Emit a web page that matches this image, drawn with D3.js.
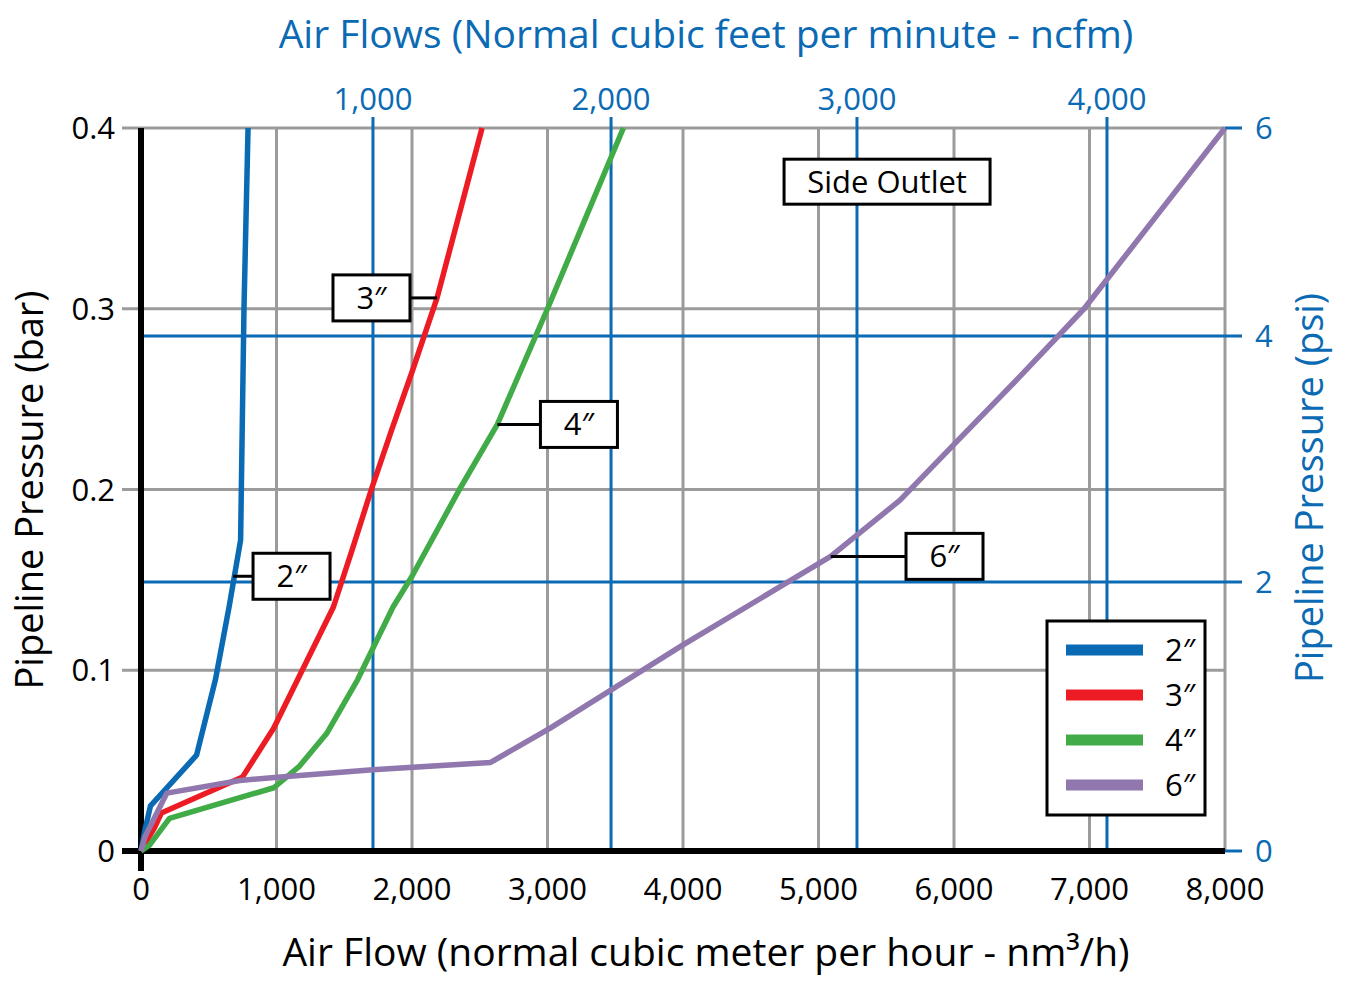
<!DOCTYPE html>
<html>
<head>
<meta charset="utf-8">
<script src="https://cdn.jsdelivr.net/npm/d3@7"></script>
<style>
  body { margin: 0; background: #fff; }
  svg { font-family: "Open Sans", "Noto Sans", sans-serif; }
</style>
</head>
<body>
<svg width="1350" height="982"></svg>
<script>
// values (flow in nm3/h, pressure in bar)
let sizes = ["2″", "3″", "4″", "6″"];
let colors = ["#0a6ab4", "#ed1c24", "#41ab48", "#9077ad"];

let flow2 = [0, 30, 70, 410, 550, 650, 735, 760, 790];
let bar2 = [0, 0.012, 0.025, 0.053, 0.095, 0.135, 0.172, 0.3, 0.4];
let flow3 = [0, 30, 100, 150, 750, 980, 1210, 1420, 1560, 1700, 1850, 2000, 2185, 2517];
let bar3 = [0, 0.004, 0.013, 0.021, 0.041, 0.068, 0.103, 0.135, 0.167, 0.2, 0.233, 0.265, 0.306, 0.4];
let flow4 = [0, 60, 210, 980, 1170, 1370, 1600, 1860, 2000, 2350, 2630, 3000, 3280, 3560];
let bar4 = [0, 0.003, 0.018, 0.035, 0.047, 0.065, 0.095, 0.135, 0.152, 0.2, 0.236, 0.3, 0.35, 0.4];
let flow6 = [0, 30, 190, 730, 1030, 1710, 2580, 3020, 4000, 5090, 5600, 6000, 6480, 6960, 7480, 8000];
let bar6 = [0, 0.008, 0.032, 0.039, 0.041, 0.045, 0.049, 0.068, 0.114, 0.163, 0.194, 0.225, 0.262, 0.3, 0.35, 0.4];

let xTicks = [0, 1000, 2000, 3000, 4000, 5000, 6000, 7000, 8000];
let yTicks = [0, 0.1, 0.2, 0.3, 0.4];
// secondary axes as drawn on the chart (tick value -> position in primary units)
let ncfmTicks = [1000, 2000, 3000, 4000];
let ncfmAt = [1712, 3469, 5284, 7129];
let psiTicks = [0, 2, 4, 6];
let psiAt = [0, 0.1488, 0.2849, 0.4];

// callout labels: point on curve and box centre (data units)
let callouts = [
    { text: "2″", ax: 680, ay: 0.152, bx: 1111 },
    { text: "3″", ax: 2185, ay: 0.306, bx: 1701 },
    { text: "4″", ax: 2630, ay: 0.236, bx: 3232 },
    { text: "6″", ax: 5090, ay: 0.163, bx: 5930 }
];

let series = [
    flow2.map((f, i) => [f, bar2[i]]),
    flow3.map((f, i) => [f, bar3[i]]),
    flow4.map((f, i) => [f, bar4[i]]),
    flow6.map((f, i) => [f, bar6[i]])
];

let svg = d3.select("svg");
let blue = "#0a6ab4", grey = "#9b9b9b";

let x = d3.scaleLinear().domain([0, 8000]).range([141, 1225]);
let y = d3.scaleLinear().domain([0, 0.4]).range([851, 128]);
let ncfm = d3.scaleLinear().domain([0].concat(ncfmTicks)).range([0].concat(ncfmAt));
let psi = d3.scaleLinear().domain(psiTicks).range(psiAt);

// grey grid
svg.append("g").selectAll("line")
    .data(xTicks.slice(1))
    .enter().append("line")
    .attr("x1", d => x(d)).attr("x2", d => x(d))
    .attr("y1", y(0.4)).attr("y2", y(0))
    .attr("stroke", grey).attr("stroke-width", 3);

svg.append("g").selectAll("line")
    .data(yTicks.slice(1))
    .enter().append("line")
    .attr("x1", x(0) - 19).attr("x2", x(8000))
    .attr("y1", d => y(d)).attr("y2", d => y(d))
    .attr("stroke", grey).attr("stroke-width", 3);

// blue secondary grid
svg.append("g").selectAll("line")
    .data(ncfmTicks)
    .enter().append("line")
    .attr("x1", d => x(ncfm(d))).attr("x2", d => x(ncfm(d)))
    .attr("y1", y(0.4) - 11).attr("y2", y(0))
    .attr("stroke", blue).attr("stroke-width", 3);

svg.append("g").selectAll("line")
    .data(psiTicks)
    .enter().append("line")
    .attr("x1", d => d == 0 || d == 6 ? x(8000) : x(0)).attr("x2", x(8000) + 17)
    .attr("y1", d => y(psi(d))).attr("y2", d => y(psi(d)))
    .attr("stroke", blue).attr("stroke-width", 3);

// black axes
svg.append("line")
    .attr("x1", x(0)).attr("x2", x(0))
    .attr("y1", y(0.4)).attr("y2", y(0) + 20)
    .attr("stroke", "black").attr("stroke-width", 6);
svg.append("line")
    .attr("x1", x(0) - 19).attr("x2", x(8000))
    .attr("y1", y(0)).attr("y2", y(0))
    .attr("stroke", "black").attr("stroke-width", 6);

// tick labels
let fmt = d3.format(",");
svg.append("g").selectAll("text")
    .data(xTicks)
    .enter().append("text")
    .attr("x", d => x(d)).attr("y", 900)
    .attr("text-anchor", "middle")
    .attr("font-size", 31)
    .text(d => fmt(d));

svg.append("g").selectAll("text")
    .data(yTicks)
    .enter().append("text")
    .attr("x", 115).attr("y", d => y(d) + 11)
    .attr("text-anchor", "end")
    .attr("font-size", 31)
    .text(d => d == 0 ? "0" : d.toFixed(1));

svg.append("g").selectAll("text")
    .data(ncfmTicks)
    .enter().append("text")
    .attr("x", d => x(ncfm(d))).attr("y", 110)
    .attr("text-anchor", "middle")
    .attr("font-size", 31)
    .attr("fill", blue)
    .text(d => fmt(d));

svg.append("g").selectAll("text")
    .data(psiTicks)
    .enter().append("text")
    .attr("x", 1255).attr("y", d => y(psi(d)) + 11)
    .attr("font-size", 31)
    .attr("fill", blue)
    .text(d => d);

// axis titles
svg.append("text")
    .attr("x", 706).attr("y", 48)
    .attr("text-anchor", "middle")
    .attr("font-size", 39)
    .attr("fill", blue)
    .text("Air Flows (Normal cubic feet per minute - ncfm)");

svg.append("text")
    .attr("x", 706).attr("y", 966)
    .attr("text-anchor", "middle")
    .attr("font-size", 39)
    .text("Air Flow (normal cubic meter per hour - nm³/h)");

svg.append("text")
    .attr("transform", "translate(43,490) rotate(-90)")
    .attr("text-anchor", "middle")
    .attr("font-size", 38)
    .text("Pipeline Pressure (bar)");

svg.append("text")
    .attr("transform", "translate(1323,488) rotate(-90)")
    .attr("text-anchor", "middle")
    .attr("font-size", 38)
    .attr("fill", blue)
    .text("Pipeline Pressure (psi)");

// curves
let line = d3.line()
    .x(d => x(d[0]))
    .y(d => y(d[1]));

svg.append("g").selectAll("path")
    .data(series)
    .enter().append("path")
    .attr("d", line)
    .attr("fill", "none")
    .attr("stroke", (d, i) => colors[i])
    .attr("stroke-width", 5.5)
    .attr("stroke-linejoin", "round");

// callouts
let bw = 77, bh = 46;
let co = svg.append("g").selectAll("g")
    .data(callouts)
    .enter().append("g");

co.append("line")
    .attr("x1", d => x(d.ax)).attr("x2", d => d.bx > d.ax ? x(d.bx) - bw / 2 : x(d.bx) + bw / 2)
    .attr("y1", d => y(d.ay)).attr("y2", d => y(d.ay))
    .attr("stroke", "black").attr("stroke-width", 3);

co.append("rect")
    .attr("x", d => x(d.bx) - bw / 2).attr("y", d => y(d.ay) - bh / 2)
    .attr("width", bw).attr("height", bh)
    .attr("fill", "white").attr("stroke", "black").attr("stroke-width", 3);

co.append("text")
    .attr("x", d => x(d.bx)).attr("y", d => y(d.ay) + 11)
    .attr("text-anchor", "middle")
    .attr("font-size", 31)
    .text(d => d.text);

// "Side Outlet" box
svg.append("rect")
    .attr("x", x(5506) - 103).attr("y", y(0.3703) - 22.5)
    .attr("width", 206).attr("height", 45)
    .attr("fill", "white").attr("stroke", "black").attr("stroke-width", 3);
svg.append("text")
    .attr("x", x(5506)).attr("y", y(0.3703) + 11)
    .attr("text-anchor", "middle")
    .attr("font-size", 31)
    .text("Side Outlet");

// legend
let legend = svg.append("g").attr("transform", "translate(1047,621)");
legend.append("rect")
    .attr("width", 158).attr("height", 194)
    .attr("fill", "white").attr("stroke", "black").attr("stroke-width", 3);

let items = legend.selectAll("g.item")
    .data(sizes)
    .enter().append("g")
    .attr("transform", (d, i) => "translate(0," + (29 + i * 45) + ")");

items.append("line")
    .attr("x1", 19).attr("x2", 96)
    .attr("stroke", (d, i) => colors[i])
    .attr("stroke-width", 11);

items.append("text")
    .attr("x", 118).attr("y", 11)
    .attr("font-size", 31)
    .text(d => d);
</script>
</body>
</html>
